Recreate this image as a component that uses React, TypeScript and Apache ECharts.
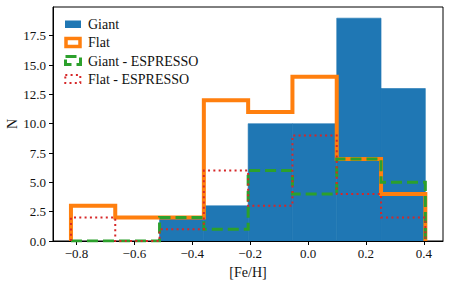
import React, { useEffect, useRef } from "react";
import * as echarts from "echarts";

const binEdges = [-0.819, -0.666, -0.513, -0.36, -0.207, -0.054, 0.099, 0.252, 0.405];
const giant = [0, 0, 2, 3, 10, 10, 19, 13];
const flat = [3, 2, 2, 12, 11, 14, 7, 4];
const giantEspresso = [0, 0, 2, 1, 6, 4, 7, 5];
const flatEspresso = [2, 0, 1, 6, 3, 9, 4, 2];
const xTicks = [-0.8, -0.6, -0.4, -0.2, 0.0, 0.2, 0.4];
const yTicks = [0, 2.5, 5, 7.5, 10, 12.5, 15, 17.5];
const legendNames = ["Giant", "Flat", "Giant - ESPRESSO", "Flat - ESPRESSO"];

const FONT = "Liberation Serif";

function stepPoints(edges: number[], counts: number[]) {
  const pts: number[][] = [[edges[0], 0]];
  counts.forEach((c, i) => {
    pts.push([edges[i], c]);
    pts.push([edges[i + 1], c]);
  });
  pts.push([edges[edges.length - 1], 0]);
  return pts;
}

const fmt = (v: number) => v.toFixed(1).replace("-", "\u2212");

export default function App() {
  const ref = useRef<HTMLDivElement>(null);
  useEffect(() => {
    if (!ref.current) return;
    const chart = echarts.init(ref.current, null, { renderer: "svg" });
    const axisLine = { show: true, onZero: false, lineStyle: { color: "#000", width: 1 } };
    const lbl = { fontFamily: FONT, fontSize: 13, color: "#111" };
    const lineCommon = {
      type: "line" as const,
      showSymbol: false,
      symbol: "none",
      clip: true,
    };
    chart.setOption({
      animation: false,
      backgroundColor: "#fff",
      textStyle: { fontFamily: FONT },
      grid: {
        left: 53,
        right: 9,
        top: 7,
        bottom: 45,
        show: true,
        borderColor: "#000",
        borderWidth: 1,
        backgroundColor: "transparent",
      },
      xAxis: {
        type: "value",
        min: -0.881,
        max: 0.466,
        axisLine,
        axisTick: { show: true, customValues: xTicks, length: 4, lineStyle: { color: "#000", width: 1 } },
        axisLabel: { ...lbl, customValues: xTicks, formatter: (v: number) => fmt(v), margin: 6 },
        splitLine: { show: false },
      },
      yAxis: {
        type: "value",
        min: 0,
        max: 19.95,
        axisLine,
        axisTick: { show: true, customValues: yTicks, length: 4, lineStyle: { color: "#000", width: 1 } },
        axisLabel: { ...lbl, customValues: yTicks, formatter: (v: number) => v.toFixed(1), margin: 7 },
        splitLine: { show: false },
      },
      series: [
        {
          type: "custom",
          name: legendNames[0],
          data: giant.map((c, i) => [binEdges[i], binEdges[i + 1], c]),
          encode: { x: [0, 1], y: 2 },
          clip: true,
          renderItem: (params: any, api: any) => {
            const p0 = api.coord([api.value(0), api.value(2)]);
            const p1 = api.coord([api.value(1), 0]);
            return {
              type: "rect",
              shape: { x: p0[0], y: p0[1], width: p1[0] - p0[0], height: p1[1] - p0[1] },
              style: { fill: "#1f77b4", stroke: api.value(2) > 0 ? "#1f77b4" : "none", lineWidth: 0.6 },
            };
          },
          z: 1,
        },
        {
          ...lineCommon,
          name: legendNames[1],
          data: stepPoints(binEdges, flat),
          lineStyle: { color: "#ff7f0e", width: 4, join: "miter", cap: "butt" },
          z: 2,
        },
        {
          ...lineCommon,
          name: legendNames[2],
          data: stepPoints(binEdges, giantEspresso),
          lineStyle: { color: "#2ca02c", width: 3, type: [11, 5], join: "miter", cap: "butt" },
          z: 3,
        },
        {
          ...lineCommon,
          name: legendNames[3],
          data: stepPoints(binEdges, flatEspresso),
          lineStyle: { color: "#d62728", width: 2, type: [2, 3.3], join: "miter", cap: "butt" },
          z: 4,
        },
      ],
      graphic: [
        { type: "rect", shape: { x: 65, y: 20.5, width: 16, height: 7.5 }, style: { fill: "#1f77b4" }, z: 10 },
        { type: "rect", shape: { x: 66, y: 38.5, width: 14, height: 8 }, style: { fill: "none", stroke: "#ff7f0e", lineWidth: 3.5 }, z: 10 },
        { type: "rect", shape: { x: 65.5, y: 56.5, width: 15, height: 8 }, style: { fill: "none", stroke: "#2ca02c", lineWidth: 3, lineDash: [11, 5] }, z: 10 },
        { type: "rect", shape: { x: 65.3, y: 75, width: 15, height: 8 }, style: { fill: "none", stroke: "#d62728", lineWidth: 2, lineDash: [2, 3.3] }, z: 10 },
        ...legendNames.map((n, i) => ({
          type: "text",
          x: 88,
          y: [24.3, 42.5, 61, 79][i],
          style: { text: n, fontFamily: FONT, fontSize: 14, fill: "#111", textVerticalAlign: "middle", textAlign: "left" },
          z: 10,
        })),
        {
          type: "text",
          x: 248,
          y: 272,
          style: { text: "[Fe/H]", fontFamily: FONT, fontSize: 14, fill: "#111", textAlign: "center", textVerticalAlign: "middle" },
        },
        {
          type: "text",
          x: 12,
          y: 124,
          rotation: Math.PI / 2,
          style: { text: "N", fontFamily: FONT, fontSize: 14, fill: "#111", textAlign: "center", textVerticalAlign: "middle" },
        },
      ],
    });
    return () => chart.dispose();
  }, []);
  return <div ref={ref} style={{ position: "fixed", left: 0, top: 0, width: 452, height: 286 }} />;
}
